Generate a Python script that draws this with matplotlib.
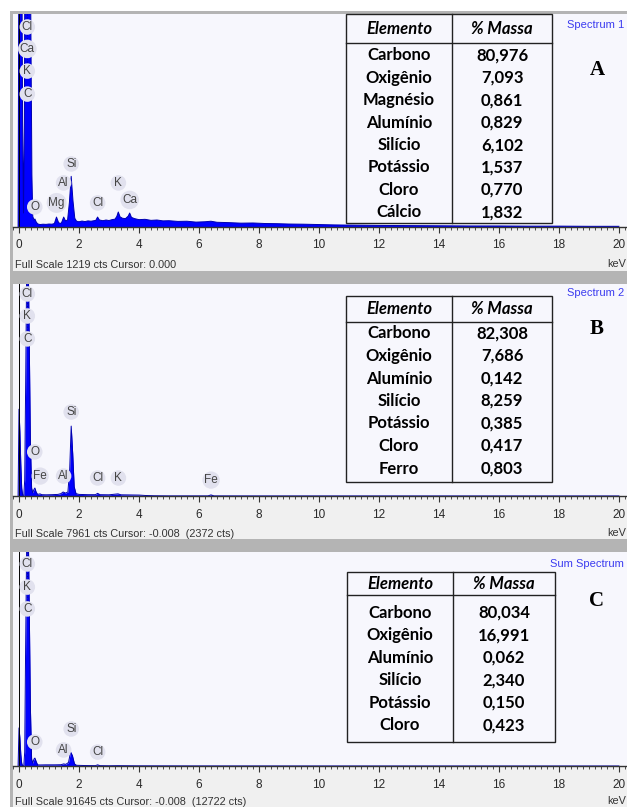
import matplotlib.pyplot as plt
from matplotlib.patches import Rectangle
from matplotlib.ticker import MultipleLocator

W, H = 627, 807

# ---- spectrum A (Spectrum 1) ----
energy_a = [-0.03, 0.0, 0.02, 0.05, 0.09, 0.12, 0.15, 0.18, 0.21, 0.26, 0.30, 0.34, 0.39,
            0.43, 0.46, 0.50, 0.53, 0.57, 0.62, 0.70, 0.80, 0.90, 1.00, 1.10, 1.18, 1.25,
            1.32, 1.38, 1.42, 1.49, 1.55, 1.62, 1.68, 1.74, 1.80, 1.86, 1.92, 2.00, 2.10,
            2.20, 2.30, 2.40, 2.50, 2.56, 2.62, 2.68, 2.80, 2.90, 3.00, 3.10, 3.20, 3.26,
            3.31, 3.37, 3.45, 3.55, 3.64, 3.69, 3.75, 3.85, 4.00, 4.20, 4.40, 4.60, 4.80,
            5.00, 5.30, 5.60, 5.90, 6.20, 6.40, 6.60, 7.00, 7.40, 7.80, 8.20, 8.60, 9.00,
            9.50, 10.0, 10.5, 11.0, 12.0, 13.0, 14.0, 15.0, 16.0, 17.0, 18.0, 19.0, 20.0]
counts_a = [0, 1900, 2400, 2200, 1800, 600, 80, 600, 2500, 4800, 4200, 2600, 1300,
            300, 60, 40, 46, 30, 18, 14, 16, 15, 17, 16, 20, 57,
            25, 20, 25, 57, 35, 40, 140, 290, 150, 50, 33, 30, 34,
            31, 35, 33, 36, 38, 57, 40, 36, 40, 37, 42, 45, 60,
            86, 58, 50, 48, 62, 80, 55, 48, 42, 44, 38, 40, 35,
            36, 32, 33, 28, 30, 33, 27, 25, 22, 23, 20, 19, 17,
            16, 14, 12, 11, 9, 8, 7, 6, 6, 5, 5, 4, 4]

# ---- spectrum B (Spectrum 2) ----
energy_b = [-0.03, 0.0, 0.03, 0.06, 0.09, 0.12, 0.16, 0.19, 0.22, 0.26, 0.30, 0.34, 0.38,
            0.42, 0.46, 0.50, 0.53, 0.57, 0.62, 0.70, 0.76, 0.90, 1.10, 1.30, 1.40, 1.47,
            1.55, 1.63, 1.69, 1.74, 1.79, 1.84, 1.90, 2.00, 2.30, 2.55, 2.62, 2.70, 3.00,
            3.30, 3.40, 3.70, 4.00, 4.20, 4.50, 5.00, 6.30, 6.40, 6.50, 8.00, 20.0]
counts_b = [0, 3260, 2400, 1200, 300, 40, 20, 600, 4000, 9000, 9500, 6000, 2000,
            300, 120, 250, 300, 150, 60, 80, 50, 45, 50, 60, 90, 150,
            110, 150, 1000, 2625, 1600, 350, 90, 60, 50, 50, 100, 50, 45,
            80, 45, 40, 35, 20, 10, 5, 5, 40, 5, 3, 2]

# ---- spectrum C (Sum Spectrum) ----
energy_c = [-0.03, 0.0, 0.03, 0.06, 0.09, 0.12, 0.16, 0.19, 0.22, 0.26, 0.30, 0.34, 0.38,
            0.42, 0.46, 0.50, 0.53, 0.57, 0.62, 0.70, 0.90, 1.20, 1.40, 1.49, 1.56, 1.65,
            1.72, 1.78, 1.85, 1.92, 2.20, 2.55, 2.62, 2.70, 3.00, 3.30, 4.00, 6.00, 10.0, 20.0]
counts_c = [0, 16300, 12000, 5000, 1200, 100, 50, 6000, 50000, 100000, 110000, 70000, 25000,
            3000, 1200, 3000, 3400, 2000, 500, 450, 500, 500, 550, 900, 700, 1500,
            6000, 4500, 900, 300, 200, 150, 500, 150, 100, 150, 80, 40, 20, 10]

full_scale = [1219, 7961, 91645]
cursor = [0.000, -0.008, -0.008]
cursor_cts = [None, 2372, 12722]
spectrum_names = ["Spectrum 1", "Spectrum 2", "Sum Spectrum"]
panel_letters = ["A", "B", "C"]

# peak labels (symbol, line energy in keV)
labels_a = [("Cl", 0.277), ("Ca", 0.277), ("K", 0.277), ("C", 0.277), ("O", 0.525),
            ("Mg", 1.254), ("Al", 1.487), ("Si", 1.740), ("Cl", 2.622), ("K", 3.314),
            ("Ca", 3.692)]
labels_b = [("Cl", 0.277), ("K", 0.277), ("C", 0.277), ("Si", 1.740), ("O", 0.525),
            ("Fe", 0.705), ("Al", 1.487), ("Cl", 2.622), ("K", 3.314), ("Fe", 6.404)]
labels_c = [("Cl", 0.277), ("K", 0.277), ("C", 0.277), ("Si", 1.740), ("O", 0.525),
            ("Al", 1.487), ("Cl", 2.622)]

# composition tables
elements_a = ["Carbono", "Oxigênio", "Magnésio", "Alumínio", "Silício", "Potássio", "Cloro", "Cálcio"]
mass_a = ["80,976", "7,093", "0,861", "0,829", "6,102", "1,537", "0,770", "1,832"]
elements_b = ["Carbono", "Oxigênio", "Alumínio", "Silício", "Potássio", "Cloro", "Ferro"]
mass_b = ["82,308", "7,686", "0,142", "8,259", "0,385", "0,417", "0,803"]
elements_c = ["Carbono", "Oxigênio", "Alumínio", "Silício", "Potássio", "Cloro"]
mass_c = ["80,034", "16,991", "0,062", "2,340", "0,150", "0,423"]

# ---- layout (pixels) ----
# frame_top, plot_top, baseline, strip_bottom, frame_bottom
panels = [(11, 14, 227, 271, 273), (272, 284, 496, 539, 541), (541, 552, 766, 807, 807)]
label_y = [[0.939, 0.836, 0.732, 0.624, 0.094, 0.113, 0.207, 0.296, 0.113, 0.207, 0.127],
           [0.953, 0.849, 0.741, 0.396, 0.208, 0.094, 0.094, 0.085, 0.085, 0.075],
           [0.944, 0.836, 0.734, 0.173, 0.112, 0.075, 0.065]]
# table: left, divider, right, top, header line, bottom, first row, row step
tables = [(346, 452, 552, 14, 43, 223, 55, 22.4),
          (346, 452, 552, 296, 322, 482, 333, 22.5),
          (347, 453, 555, 572, 595, 742, 612, 22.6)]
letter_base = [75, 334, 606]
name_base = [28, 296, 567]
status_base = [268, 537, 805]

spectra = [(energy_a, counts_a), (energy_b, counts_b), (energy_c, counts_c)]
all_labels = [labels_a, labels_b, labels_c]
all_tables = [(elements_a, mass_a), (elements_b, mass_b), (elements_c, mass_c)]

fig = plt.figure(figsize=(W / 100, H / 100), dpi=100)
bg = fig.add_axes([0, 0, 1, 1], zorder=0)
bg.set_xlim(0, W)
bg.set_ylim(H, 0)
bg.axis('off')
over = fig.add_axes([0, 0, 1, 1], zorder=5)
over.set_xlim(0, W)
over.set_ylim(H, 0)
over.axis('off')
over.patch.set_alpha(0)

x0 = 13
for i, (ftop, ptop, base, sbot, fbot) in enumerate(panels):
    # frame and grey strip under the axis
    bg.add_patch(Rectangle((10, ftop), W - 10, fbot - ftop, fc='#b4b4b4', ec='none'))
    bg.add_patch(Rectangle((x0, base), W - x0, sbot - base, fc='#f0f0f0', ec='none'))

    ax = fig.add_axes([x0 / W, 1 - base / H, (W - x0) / W, (base - ptop) / H], zorder=2)
    ax.set_facecolor('#f7f7fd')
    e, c = spectra[i]
    ax.fill_between(e, c, 0, color='#0000ff', lw=0)
    ax.plot(e, c, color='#0000b0', lw=0.7)
    ax.axvline(cursor[i], color='black', lw=0.7)
    ax.set_xlim(-0.2, 20.27)
    ax.set_ylim(0, full_scale[i])
    for s in ['top', 'left', 'right']:
        ax.spines[s].set_visible(False)
    ax.spines['bottom'].set_color('#333333')
    ax.spines['bottom'].set_linewidth(1.0)
    ax.set_yticks([])
    ax.set_xticks(range(0, 21, 2))
    ax.xaxis.set_minor_locator(MultipleLocator(0.2))
    ax.tick_params(axis='x', which='major', length=4, width=0.8, color='#333333',
                   labelsize=8.5, labelcolor='#2a2a2a', pad=5)
    ax.tick_params(axis='x', which='minor', length=2.5, width=0.6, color='#333333')
    for t in ax.get_xticklabels():
        t.set_family('Liberation Sans')

    # element markers
    labs = all_labels[i]
    ax.vlines(0.277, label_y[i][2], 1.0, transform=ax.get_xaxis_transform(),
              colors='#0000b0', linestyles=':', lw=0.8)
    for (sym, en), yf in zip(labs, label_y[i]):
        ax.text(en, yf, sym, transform=ax.get_xaxis_transform(), ha='center', va='center',
                fontsize=8.5, color='#444444', family='Liberation Sans',
                bbox=dict(boxstyle='circle,pad=0.15', fc='#e1e1ee', ec='none'))

    # status line and axis unit
    txt = f"Full Scale {full_scale[i]} cts Cursor: {cursor[i]:.3f}"
    if cursor_cts[i] is not None:
        txt += f"  ({cursor_cts[i]} cts)"
    over.text(15, status_base[i], txt, fontsize=7.8, color='#333333', family='Liberation Sans',
              va='baseline')
    over.text(626, status_base[i] - 1, 'keV', fontsize=7.8, color='#333333',
              family='Liberation Sans', ha='right', va='baseline')
    over.text(624, name_base[i], spectrum_names[i], fontsize=8, color='#3c3cf0',
              family='Liberation Sans', ha='right', va='baseline')
    over.text(597, letter_base[i], panel_letters[i], fontsize=15, fontweight='bold',
              family='Liberation Serif', ha='center', va='baseline')

    # composition table
    left, mid, right, ttop, hline, tbot, row0, step = tables[i]
    over.add_patch(Rectangle((left, ttop), right - left, tbot - ttop, fc='#f7f7fd',
                             ec='#222222', lw=1.0))
    over.plot([left, right], [hline, hline], color='#222222', lw=1.0)
    over.plot([mid, mid], [ttop, tbot], color='#222222', lw=1.0)
    hc = (ttop + hline) / 2 + 5.5
    over.text((left + mid) / 2, hc, 'Elemento', fontsize=12, fontweight='bold',
              style='italic', family='Lato', ha='center', va='baseline')
    over.text((mid + right) / 2, hc, '% Massa', fontsize=12, fontweight='bold',
              style='italic', family='Lato', ha='center', va='baseline')
    names, vals = all_tables[i]
    for k, (nm, v) in enumerate(zip(names, vals)):
        yb = row0 + k * step + 5.5
        over.text((left + mid) / 2, yb, nm, fontsize=12, fontweight='bold', family='Lato',
                  ha='center', va='baseline')
        over.text((mid + right) / 2, yb, v, fontsize=12, fontweight='bold', family='Lato',
                  ha='center', va='baseline')

fig.savefig('out.png', dpi=100)
